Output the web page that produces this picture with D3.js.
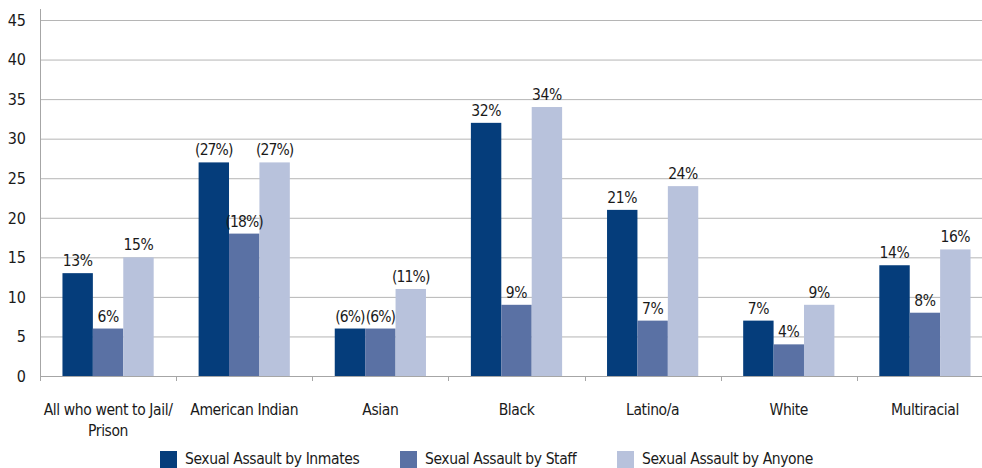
<!DOCTYPE html>
<html>
<head>
<meta charset="utf-8">
<script src="https://cdn.jsdelivr.net/npm/d3@7"></script>
<style>
body { margin: 0; background: #fff; }
text { font-family: "DejaVu Sans Condensed", "Liberation Sans Narrow", sans-serif; fill: #1a1a1a; font-size: 15.5px; letter-spacing: -0.4px; }
</style>
</head>
<body>
<script>
var w = 982;
var h = 468;

// data
var categories = ["All who went to Jail/\nPrison", "American Indian", "Asian", "Black", "Latino/a", "White", "Multiracial"];
var series = ["Sexual Assault by Inmates", "Sexual Assault by Staff", "Sexual Assault by Anyone"];
var inmates = [13, 27, 6, 32, 21, 7, 14];
var staff = [6, 18, 6, 9, 7, 4, 8];
var anyone = [15, 27, 11, 34, 24, 9, 16];
var inmatesLabels = ["13%", "(27%)", "(6%)", "32%", "21%", "7%", "14%"];
var staffLabels = ["6%", "(18%)", "(6%)", "9%", "7%", "4%", "8%"];
var anyoneLabels = ["15%", "(27%)", "(11%)", "34%", "24%", "9%", "16%"];
var yTicks = [0, 5, 10, 15, 20, 25, 30, 35, 40, 45];

var colors = ["#053d7b", "#5a71a4", "#b8c2dc"];
var values = [inmates, staff, anyone];
var labels = [inmatesLabels, staffLabels, anyoneLabels];

var svg = d3.select("body").append("svg")
    .attr("width", w)
    .attr("height", h);

var x0 = d3.scaleBand()
    .domain(categories)
    .range([40, 993])
    .padding(0);

var x1 = d3.scaleBand()
    .domain(series)
    .range([x0.bandwidth() * 0.165, x0.bandwidth() * 0.835]);

var y = d3.scaleLinear()
    .domain([0, 45])
    .range([376, 20]);

// gridlines
svg.selectAll(".grid")
    .data(yTicks.filter(function(d){ return d > 0; }))
    .enter().append("line")
    .attr("x1", 40).attr("x2", w)
    .attr("y1", function(d){ return y(d) + 0.5; })
    .attr("y2", function(d){ return y(d) + 0.5; })
    .attr("stroke", "#b5b5b5")
    .attr("stroke-width", 1);

// y tick labels
svg.selectAll(".ylab")
    .data(yTicks)
    .enter().append("text")
    .attr("x", 26)
    .attr("y", function(d){ return y(d); })
    .attr("dy", "0.36em")
    .attr("text-anchor", "end")
    .style("font-size", "16px")
    .style("letter-spacing", "0px")
    .text(function(d){ return d; });

// bars
var rows = [];
categories.forEach(function(c, i){
    series.forEach(function(s, j){
        rows.push({cat: c, ser: s, v: values[j][i], lab: labels[j][i], col: colors[j]});
    });
});

svg.selectAll(".bar")
    .data(rows)
    .enter().append("rect")
    .attr("x", function(d){ return x0(d.cat) + x1(d.ser); })
    .attr("width", x1.bandwidth())
    .attr("y", function(d){ return y(d.v); })
    .attr("height", function(d){ return y(0) - y(d.v); })
    .attr("fill", function(d){ return d.col; });

svg.selectAll(".vlab")
    .data(rows)
    .enter().append("text")
    .attr("x", function(d){ return x0(d.cat) + x1(d.ser) + x1.bandwidth() / 2; })
    .attr("y", function(d){ return y(d.v) - 7; })
    .attr("text-anchor", "middle")
    .style("letter-spacing", function(d){ return d.lab.charAt(0) == "(" ? "-0.9px" : "-0.4px"; })
    .text(function(d){ return d.lab; });

// axes lines
svg.append("line")
    .attr("x1", 40.5).attr("x2", 40.5)
    .attr("y1", 9).attr("y2", 376)
    .attr("stroke", "#a6a6a6");
svg.append("line")
    .attr("x1", 40).attr("x2", w)
    .attr("y1", 376.5).attr("y2", 376.5)
    .attr("stroke", "#a6a6a6");

// x ticks at band boundaries
svg.selectAll(".xtick")
    .data(categories)
    .enter().append("line")
    .attr("x1", function(d){ return Math.round(x0(d)) + 0.5; })
    .attr("x2", function(d){ return Math.round(x0(d)) + 0.5; })
    .attr("y1", 376).attr("y2", 381)
    .attr("stroke", "#a6a6a6");

// category labels
var cl = svg.selectAll(".xlab")
    .data(categories)
    .enter().append("text")
    .attr("text-anchor", "middle");
cl.each(function(d){
    var t = d3.select(this);
    d.split("\n").forEach(function(line, k){
        t.append("tspan")
            .attr("x", x0(d) + x0.bandwidth() / 2)
            .attr("y", 415 + k * 21)
            .text(line);
    });
});

// legend
var legX = [160, 400, 617];
var leg = svg.selectAll(".leg")
    .data(series)
    .enter().append("g")
    .attr("transform", function(d, i){ return "translate(" + legX[i] + ",451)"; });
leg.append("rect")
    .attr("width", 17).attr("height", 17)
    .attr("fill", function(d, i){ return colors[i]; });
leg.append("text")
    .attr("x", 25).attr("y", 13)
    .text(function(d){ return d; });
</script>
</body>
</html>
